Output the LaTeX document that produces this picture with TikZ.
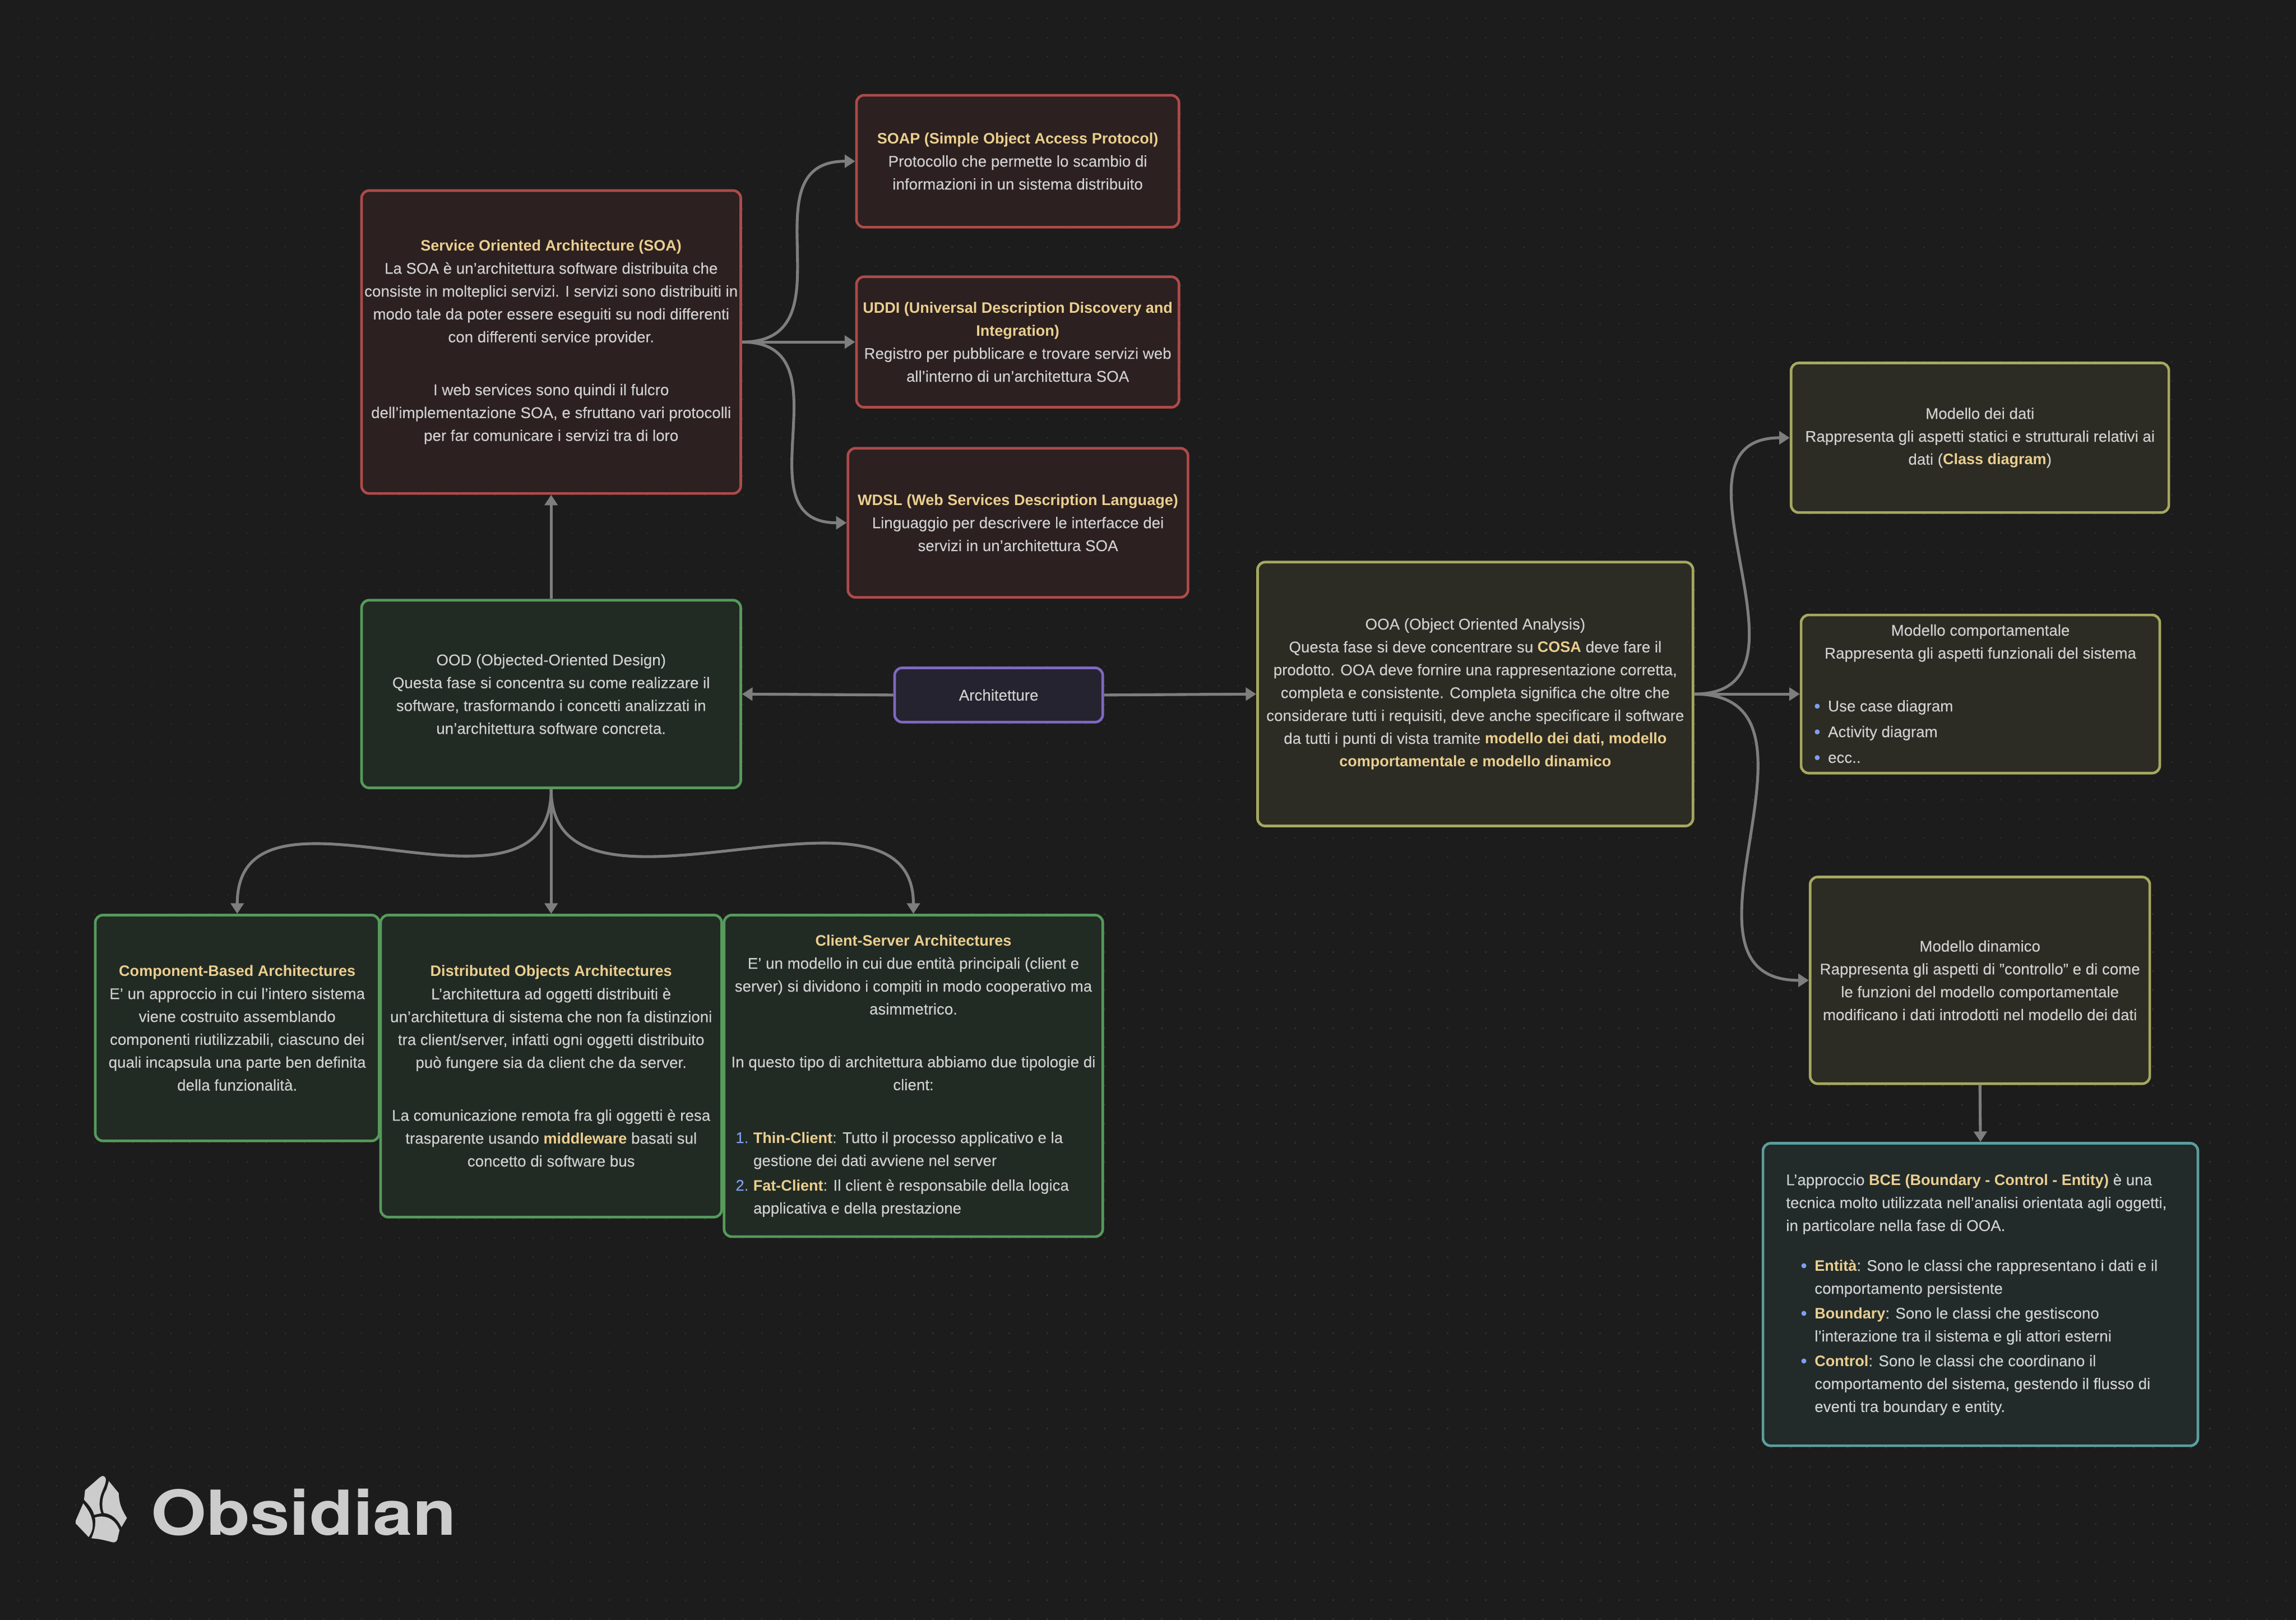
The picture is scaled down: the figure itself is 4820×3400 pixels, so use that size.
\documentclass[tikz,border=0pt]{standalone}
\usepackage{fontspec}
\usetikzlibrary{arrows.meta}
\setmainfont{Liberation Sans}[UprightFeatures={FakeBold=0.12}]
\newfontfamily\logofont{TeX Gyre Heros}
\definecolor{bgc}{HTML}{1C1C1C}
\definecolor{dotc}{HTML}{2E2E2E}
\definecolor{txtc}{HTML}{D0D0D0}
\definecolor{boldc}{HTML}{EBCF8F}
\definecolor{bulc}{HTML}{7F9FEF}
\definecolor{edgec}{HTML}{7E7E7E}
\definecolor{logoc}{HTML}{CCCCCC}
\definecolor{redb}{HTML}{AE4A4A}\definecolor{redf}{HTML}{2C2020}
\definecolor{grnb}{HTML}{569A5C}\definecolor{grnf}{HTML}{222A24}
\definecolor{yelb}{HTML}{A6A860}\definecolor{yelf}{HTML}{2C2B24}
\definecolor{purb}{HTML}{7F68C0}\definecolor{purf}{HTML}{25232F}
\definecolor{teab}{HTML}{5C9E9E}\definecolor{teaf}{HTML}{222A2A}
\newcommand{\hb}[1]{{\fontsize{15.9}{24}\selectfont\textbf{\textcolor{boldc}{#1}}}}
\newcommand{\lline}[2]{\makebox[#1pt][l]{#2}}
\newcommand{\blt}{\makebox[0pt][r]{\textcolor{bulc}{\fontsize{19}{19}\selectfont\raisebox{-.8pt}{\textbullet}}\hspace{8pt}}}
\newcommand{\numb}[1]{\makebox[0pt][r]{\textcolor{bulc}{#1}\hspace{5pt}}}
\tikzset{
 x=0.5pt,y=-0.5pt,
 box/.style={draw,line width=2.75pt,rounded corners=8pt,inner sep=0pt,outer sep=1.375pt,text=txtc,align=center,
  font=\fontsize{16.3}{24}\selectfont},
 redbox/.style={box,draw=redb,fill=redf},
 grnbox/.style={box,draw=grnb,fill=grnf},
 yelbox/.style={box,draw=yelb,fill=yelf},
 purbox/.style={box,draw=purb,fill=purf},
 teabox/.style={box,draw=teab,fill=teaf},
 edge/.style={draw=edgec,line width=3pt,-{Triangle[length=11pt,width=13.5pt]}},
 logoshape/.style={fill=logoc,draw=none},
}
\newcommand{\boxat}[7]{%
 \node[#1,minimum width={(#5-#3)*0.5pt},minimum height={(#6-#4)*0.5pt}] (#2) at ({(#3+#5)/2},{(#4+#6)/2}) {#7};}
\begin{document}
\begin{tikzpicture}
\useasboundingbox (0,0) rectangle (4820,3400);
\fill[bgc] (-20,-20) rectangle (4840,3420);
\foreach \yy in {39,79,...,3400} {
 \draw[dotc,line width=1.5pt,dash pattern=on 1.5pt off 18.5pt] (37.5,\yy) -- (4820,\yy);
}
\boxat{redbox}{soa}{759}{400}{1555}{1036}{\hb{Service Oriented Architecture (SOA)}\\La SOA è un'architettura software distribuita che\\consiste in molteplici servizi. I servizi sono distribuiti in\\modo tale da poter essere eseguiti su nodi differenti\\con differenti service provider.\\[31.5pt]I web services sono quindi il fulcro\\dell'implementazione SOA, e sfruttano vari protocolli\\per far comunicare i servizi tra di loro}
\boxat{redbox}{soap}{1798}{200}{2475}{477}{\hb{SOAP (Simple Object Access Protocol)}\\Protocollo che permette lo scambio di\\informazioni in un sistema distribuito}
\boxat{redbox}{uddi}{1798}{581}{2475}{855}{\hb{UDDI (Universal Description Discovery and}\\\hb{Integration)}\\Registro per pubblicare e trovare servizi web\\all'interno di un'architettura SOA}
\boxat{redbox}{wdsl}{1780}{941}{2494}{1254}{\hb{WDSL (Web Services Description Language)}\\Linguaggio per descrivere le interfacce dei\\servizi in un'architettura SOA}
\boxat{purbox}{arch}{1878}{1402}{2315}{1516}{Architetture}
\boxat{grnbox}{ood}{759}{1260}{1555}{1654}{OOD (Objected-Oriented Design)\\Questa fase si concentra su come realizzare il\\software, trasformando i concetti analizzati in\\un'architettura software concreta.}
\boxat{yelbox}{ooa}{2640}{1180}{3554}{1734}{OOA (Object Oriented Analysis)\\Questa fase si deve concentrare su \hb{COSA} deve fare il\\prodotto. OOA deve fornire una rappresentazione corretta,\\completa e consistente. Completa significa che oltre che\\considerare tutti i requisiti, deve anche specificare il software\\da tutti i punti di vista tramite \hb{modello dei dati, modello}\\\hb{comportamentale e modello dinamico}}
\boxat{yelbox}{dati}{3760}{762}{4553}{1076}{Modello dei dati\\Rappresenta gli aspetti statici e strutturali relativi ai\\dati (\hb{Class diagram})}
\boxat{yelbox}{comp}{3781}{1291}{4534}{1623}{Modello comportamentale\\Rappresenta gli aspetti funzionali del sistema\\[31.5pt]\lline{342}{\hspace{11pt}\blt Use case diagram}\\[3pt]\lline{342}{\hspace{11pt}\blt Activity diagram}\\[3pt]\lline{342}{\hspace{11pt}\blt ecc..}}
\boxat{yelbox}{dina}{3800}{1841}{4513}{2275}{Modello dinamico\\Rappresenta gli aspetti di "controllo" e di come\\le funzioni del modello comportamentale\\modificano i dati introdotti nel modello dei dati}
\boxat{teabox}{bce}{3701}{2400}{4614}{3035}{\lline{408}{L'approccio \hb{BCE (Boundary - Control - Entity)} è una}\\\lline{408}{tecnica molto utilizzata nell'analisi orientata agli oggetti,}\\\lline{408}{in particolare nella fase di OOA.}\\[18pt]\lline{408}{\hspace{30pt}\blt\hb{Entità}: Sono le classi che rappresentano i dati e il}\\\lline{408}{\hspace{30pt}comportamento persistente}\\[2pt]\lline{408}{\hspace{30pt}\blt\hb{Boundary}: Sono le classi che gestiscono}\\\lline{408}{\hspace{30pt}l'interazione tra il sistema e gli attori esterni}\\[2pt]\lline{408}{\hspace{30pt}\blt\hb{Control}: Sono le classi che coordinano il}\\\lline{408}{\hspace{30pt}comportamento del sistema, gestendo il flusso di}\\\lline{408}{\hspace{30pt}eventi tra boundary e entity.}}
\boxat{grnbox}{cb}{200}{1921}{796}{2395}{\hb{Component-Based Architectures}\\E' un approccio in cui l'intero sistema\\viene costruito assemblando\\componenti riutilizzabili, ciascuno dei\\quali incapsula una parte ben definita\\della funzionalità.}
\boxat{grnbox}{dist}{799}{1921}{1515}{2555}{\hb{Distributed Objects Architectures}\\L'architettura ad oggetti distribuiti è\\un'architettura di sistema che non fa distinzioni\\tra client/server, infatti ogni oggetti distribuito\\può fungere sia da client che da server.\\[31.5pt]La comunicazione remota fra gli oggetti è resa\\trasparente usando \hb{middleware} basati sul\\concetto di software bus}
\boxat{grnbox}{cs}{1520}{1921}{2315}{2596}{\hb{Client-Server Architectures}\\E' un modello in cui due entità principali (client e\\server) si dividono i compiti in modo cooperativo ma\\asimmetrico.\\[31.5pt]In questo tipo di architettura abbiamo due tipologie di\\client:\\[31.5pt]\lline{368}{\hspace{16pt}\numb{1.}\hb{Thin-Client}: Tutto il processo applicativo e la}\\\lline{368}{\hspace{16pt}gestione dei dati avviene nel server}\\[2pt]\lline{368}{\hspace{16pt}\numb{2.}\hb{Fat-Client}: Il client è responsabile della logica}\\\lline{368}{\hspace{16pt}applicativa e della prestazione}}
% connectors
\draw[edge] (ood.north) -- (soa.south);
\draw[edge] (arch.west) -- (ood.east);
\draw[edge] (arch.east) -- (ooa.west);
\draw[edge] (dina.south) -- (bce.north);
\draw[edge] (soa.east) -- (uddi.west);
\draw[edge] (soa.east) .. controls +(235,0) and +(-235,0) .. (soap.west);
\draw[edge] (soa.east) .. controls +(230,0) and +(-230,0) .. (wdsl.west);
\draw[edge] (ood.south) -- (dist.north);
\draw[edge] (ood.south) .. controls +(0,330) and +(0,-330) .. (cb.north);
\draw[edge] (ood.south) .. controls +(0,335) and +(0,-335) .. (cs.north);
\draw[edge] (ooa.east) -- (comp.west);
\draw[edge] (ooa.east) .. controls +(288,0) and +(-288,0) .. (dati.west);
\draw[edge] (ooa.east) .. controls +(325,0) and +(-325,0) .. (dina.west);
% logo
\begin{scope}[shift={(100,3040)},x=0.2870pt,y=-0.1667pt]
\fill[logoshape] (200,175) .. controls (208,175) and (213,185) .. (213,200) .. controls (213,240) and (190,280) .. (190,350) .. controls (190,380) and (193,395) .. (196,410) -- (170,420) .. controls (165,385) and (150,355) .. (133,325) -- (137,265) -- (190,185) -- cycle;
\fill[logoshape] (224,208) -- (260,283) .. controls (262,340) and (265,370) .. (290,440) -- (270,498) .. controls (255,445) and (235,415) .. (205,408) .. controls (195,360) and (200,300) .. (215,260) -- cycle;
\fill[logoshape] (130,348) .. controls (150,390) and (165,430) .. (165,490) .. controls (165,510) and (160,535) .. (150,560) -- (103,475) -- (103,455) -- cycle;
\fill[logoshape] (173,437) .. controls (195,425) and (240,420) .. (263,517) -- (255,575) .. controls (252,590) and (245,595) .. (238,593) .. controls (220,585) and (190,570) .. (160,568) .. controls (170,530) and (178,480) .. (173,437) -- cycle;
\end{scope}
\node[text=logoc,inner sep=0pt,anchor=base west,font=\logofont\bfseries] (logotext) at (317,3222) {\resizebox{320pt}{48.5pt}{Obsidian}};
\end{tikzpicture}
\end{document}
